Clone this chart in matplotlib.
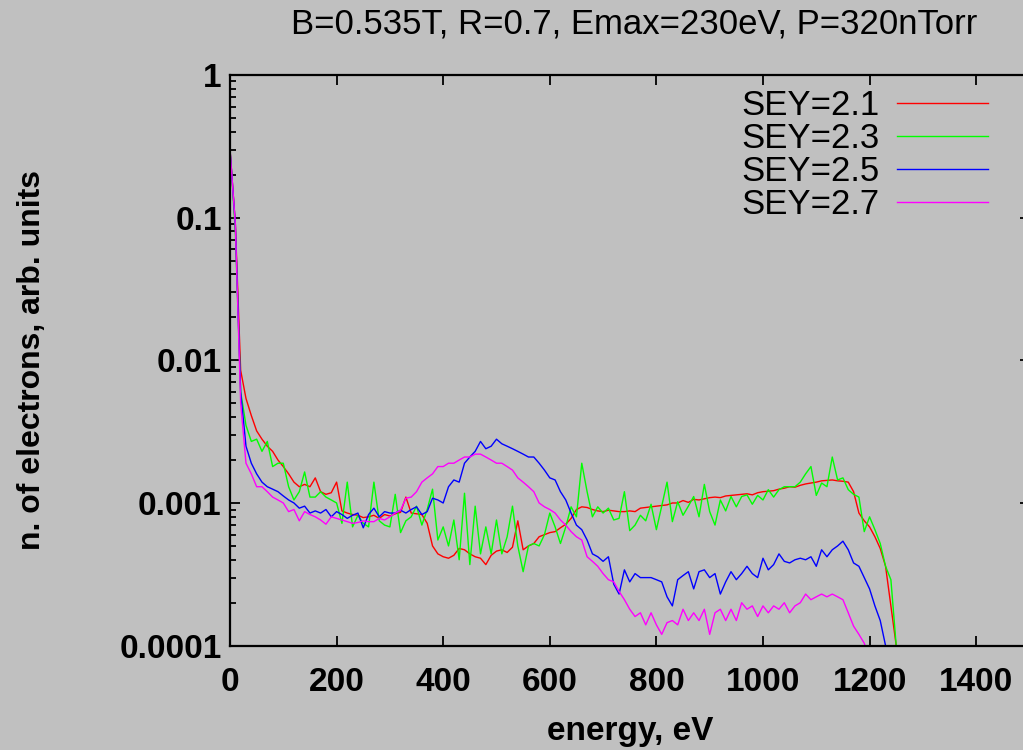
import matplotlib
matplotlib.use('Agg')
import matplotlib.pyplot as plt
import matplotlib.ticker as ticker
import numpy as np

title = 'B=0.535T, R=0.7, Emax=230eV, P=320nTorr'
labels = ['SEY=2.1', 'SEY=2.3', 'SEY=2.5', 'SEY=2.7']
colors = ['#ff0000', '#00ff00', '#0000ff', '#ff00ff']

# energy grid, eV (one value every 10 eV)
energy = np.arange(0, 1251, 10)

sey21 = [
    0.30, 0.09, 0.0085, 0.0054, 0.0041, 0.0032, 0.0028, 0.0025, 0.0023, 0.0020,
    0.0018, 0.0016, 0.0014, 0.0013, 0.00135, 0.0013, 0.0015, 0.0012, 0.00115, 0.00118,
    0.0014, 0.00088, 0.00085, 0.00083, 0.00082, 0.00079, 0.0008, 0.00082, 0.00078, 0.00083,
    0.00081, 0.00084, 0.00086, 0.0011, 0.00085, 0.00084, 0.00083, 0.00072, 0.0005, 0.00044,
    0.00042, 0.00041, 0.00043, 0.00048, 0.00047, 0.00044, 0.00042, 0.00041, 0.00037, 0.00043,
    0.00046, 0.00047, 0.00045, 0.00049, 0.00075, 0.00047, 0.0005, 0.00052, 0.00058, 0.0006,
    0.00062, 0.00063, 0.00067, 0.00071, 0.00078, 0.0009, 0.00094, 0.00093, 0.0009, 0.00088,
    0.00087, 0.00089, 0.00088, 0.00087, 0.00087, 0.00088, 0.00087, 0.00092, 0.00093, 0.00094,
    0.00095, 0.00096, 0.00097, 0.001, 0.001, 0.00104, 0.00101, 0.00106, 0.00105, 0.00107,
    0.00109, 0.0011, 0.00109, 0.00112, 0.00113, 0.00114, 0.00115, 0.00116, 0.00114, 0.00118,
    0.0012, 0.00121, 0.00122, 0.00125, 0.00127, 0.0013, 0.00129, 0.00133, 0.00136, 0.00138,
    0.0014, 0.00143, 0.00144, 0.00145, 0.00143, 0.00142, 0.0014, 0.0012, 0.00085, 0.00075,
    0.00068, 0.00058, 0.00048, 0.00036, 0.00019, 0.0001,
]

sey23 = [
    0.30, 0.08, 0.006, 0.0035, 0.0027, 0.0028, 0.0023, 0.0027, 0.0018, 0.0019,
    0.0019, 0.0013, 0.00105, 0.0012, 0.00165, 0.0011, 0.0011, 0.0012, 0.0011, 0.00105,
    0.001, 0.00072, 0.0014, 0.00068, 0.00082, 0.00072, 0.00068, 0.0014, 0.00075, 0.0007,
    0.00068, 0.00115, 0.00062, 0.00075, 0.0008, 0.00095, 0.0007, 0.0009, 0.00125, 0.00055,
    0.00068, 0.0005, 0.00076, 0.0004, 0.00117, 0.00037, 0.00095, 0.00044, 0.00068, 0.00044,
    0.00076, 0.00044, 0.00058, 0.00095, 0.0005, 0.00033, 0.0005, 0.00052, 0.0005, 0.0006,
    0.00085, 0.00068, 0.00052, 0.00068, 0.00094, 0.0008, 0.0019, 0.0012, 0.0008, 0.00094,
    0.00085, 0.00092, 0.00076, 0.00078, 0.0012, 0.00064, 0.0007, 0.00082, 0.00075, 0.00098,
    0.00065, 0.00095, 0.0014, 0.00074, 0.00102, 0.00082, 0.00095, 0.00111, 0.0008, 0.00135,
    0.00087, 0.0007, 0.00105, 0.00088, 0.00111, 0.00094, 0.00111, 0.00114, 0.00098, 0.00113,
    0.00105, 0.00124, 0.0011, 0.00124, 0.0013, 0.0013, 0.0013, 0.0014, 0.0016, 0.0018,
    0.00113, 0.00138, 0.0013, 0.0021, 0.00145, 0.0015, 0.00124, 0.00115, 0.0011, 0.00063,
    0.0008, 0.00065, 0.00052, 0.00036, 0.00029, 0.0001,
]

sey25 = [
    0.30, 0.09, 0.006, 0.0025, 0.0019, 0.0016, 0.0014, 0.0013, 0.00125, 0.0012,
    0.00112, 0.00105, 0.001, 0.00092, 0.00095, 0.00085, 0.00088, 0.00085, 0.0009, 0.0008,
    0.00087, 0.00083, 0.00078, 0.00082, 0.00085, 0.00067, 0.00083, 0.00092, 0.0008, 0.00087,
    0.00085, 0.00085, 0.00089, 0.00085, 0.0009, 0.00094, 0.00083, 0.00087, 0.00108, 0.00105,
    0.001, 0.0013, 0.00145, 0.0014, 0.0019, 0.0021, 0.0023, 0.0027, 0.0024, 0.0025,
    0.0028, 0.0026, 0.0025, 0.0024, 0.0023, 0.0022, 0.0021, 0.0021, 0.0019, 0.0017,
    0.0015, 0.00145, 0.0012, 0.00105, 0.00085, 0.0007, 0.00065, 0.00055, 0.00044, 0.00042,
    0.00039, 0.00042, 0.00027, 0.00023, 0.00034, 0.00028, 0.00032, 0.0003, 0.0003, 0.0003,
    0.00029, 0.00028, 0.00022, 0.00019, 0.00029, 0.00031, 0.00033, 0.00025, 0.00033, 0.00034,
    0.0003, 0.00032, 0.00023, 0.00028, 0.00033, 0.00029, 0.00032, 0.00036, 0.00032, 0.0003,
    0.00041, 0.00034, 0.00037, 0.00044, 0.00039, 0.00038, 0.0004, 0.00041, 0.0004, 0.00042,
    0.00036, 0.00047, 0.00042, 0.00047, 0.0005, 0.00054, 0.00047, 0.00038, 0.00036, 0.0003,
    0.00025, 0.00019, 0.00015, 0.0001, 0.00005, 0.00005,
]

sey27 = [
    0.30, 0.09, 0.005, 0.0019, 0.0016, 0.0013, 0.0013, 0.0012, 0.0011, 0.00105,
    0.001, 0.00087, 0.0009, 0.00075, 0.00087, 0.00083, 0.0008, 0.00076, 0.00071, 0.0008,
    0.00078, 0.00076, 0.00074, 0.00072, 0.00073, 0.00075, 0.00074, 0.00074, 0.00078, 0.00076,
    0.0008, 0.00085, 0.00089, 0.00108, 0.0011, 0.0012, 0.0014, 0.0015, 0.0016, 0.0018,
    0.0018, 0.0019, 0.0019, 0.002, 0.0021, 0.0021, 0.0022, 0.0022, 0.0021, 0.002,
    0.0019, 0.0019, 0.0018, 0.0017, 0.0015, 0.0014, 0.0013, 0.0012, 0.001, 0.00094,
    0.0009, 0.00085, 0.00076, 0.0007, 0.00063, 0.00058, 0.00055, 0.00042, 0.00039, 0.00036,
    0.00032, 0.00029, 0.00028, 0.00024, 0.00021, 0.00018, 0.00016, 0.00017, 0.00014, 0.00017,
    0.00014, 0.00012, 0.000145, 0.00015, 0.00014, 0.00018, 0.00015, 0.00017, 0.00015, 0.00018,
    0.00012, 0.00017, 0.00018, 0.00015, 0.00018, 0.00015, 0.0002, 0.00018, 0.00019, 0.00016,
    0.00019, 0.00017, 0.00019, 0.00018, 0.0002, 0.00017, 0.00019, 0.0002, 0.00023, 0.00021,
    0.00022, 0.00023, 0.00022, 0.00023, 0.00022, 0.00021, 0.00017, 0.000137, 0.00012, 0.000104,
    0.00008, 0.00005, 0.00005, 0.00005, 0.00005, 0.00005,
]

series = [sey21, sey23, sey25, sey27]

plt.rcParams['font.family'] = ['Liberation Sans', 'DejaVu Sans']
bg = '#c0c0c0'

fig = plt.figure(figsize=(10.23, 7.5), dpi=100, facecolor=bg)
ax = fig.add_axes([230 / 1023, 0.1391, 800 / 1023, 0.761], facecolor=bg)

for vals, lab, col in zip(series, labels, colors):
    ax.plot(energy, vals, color=col, lw=1.0, label=lab)

ax.set_yscale('log')
ax.set_ylim(1e-4, 1)
ax.set_xlim(0, 1501)
ax.set_xticks(np.arange(0, 1401, 200))
ax.yaxis.set_major_formatter(ticker.FormatStrFormatter('%g'))
ax.yaxis.set_minor_formatter(ticker.NullFormatter())

for s in ax.spines.values():
    s.set_linewidth(1.6)
ax.tick_params(which='both', direction='in', top=True, right=True, width=1.3)
ax.tick_params(which='major', length=7, labelsize=24)
ax.tick_params(which='minor', length=4)
ax.tick_params(axis='y', pad=6)
ax.tick_params(axis='x', pad=15)
for lbl in ax.get_xticklabels() + ax.get_yticklabels():
    lbl.set_fontweight('bold')

ax.set_title(title, fontsize=25, pad=30, x=0.505)
ax.set_xlabel('energy, eV', fontsize=24, fontweight='bold')
ax.xaxis.set_label_coords(0.5, -0.123)
ax.set_ylabel('n. of electrons, arb. units', fontsize=23, fontweight='bold', va='center')
ax.yaxis.set_label_coords(-0.2475, 0.5)

ax.legend(loc='upper right', bbox_to_anchor=(0.9475, 0.975), frameon=False,
          markerfirst=False, fontsize=25, handlelength=2.62, handletextpad=0.5,
          labelspacing=0.0, borderaxespad=0, borderpad=0)

plt.savefig('out.png', dpi=100, facecolor=bg)
